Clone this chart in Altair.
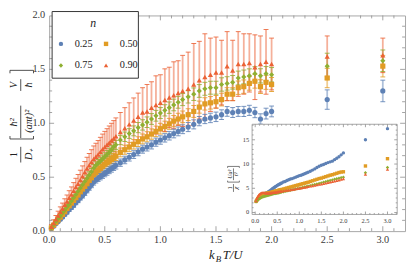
import altair as alt
import pandas as pd

SERIF = "Liberation Serif"
series = ["0.25", "0.50", "0.75", "0.90"]
colors = ["#5E81B5", "#E19C24", "#8FB032", "#EB6235"]
shapes = ["circle", "square", "diamond", "triangle-up"]

T = [0.02,0.04,0.06,0.08,0.10,0.12,0.14,0.16,0.18,0.20,0.22,0.24,0.26,0.28,0.30,0.32,0.34,0.36,0.38,0.40,0.42,0.44,0.46,0.48,0.50,0.52,0.54,0.56,0.58,0.60,
     0.64,0.68,0.72,0.76,0.80,0.84,0.88,0.92,0.96,1.00,1.04,1.08,1.12,1.16,1.20,
     1.25,1.30,1.35,1.40,1.45,1.50,1.55,1.60,1.65,1.70,1.75,1.80,1.85,1.90,1.95,2.00,
     2.5,3.0]

D_025 = [0.025,0.045,0.07,0.09,0.11,0.13,0.155,0.175,0.20,0.22,0.24,0.265,0.285,0.31,0.33,0.355,0.38,0.405,0.43,0.455,0.475,0.49,0.505,0.52,0.535,0.55,0.565,0.58,0.595,0.61,
         0.635,0.66,0.685,0.71,0.735,0.76,0.78,0.80,0.825,0.845,0.865,0.885,0.905,0.925,0.945,
         0.965,0.99,1.02,1.04,1.05,1.06,1.08,1.11,1.10,1.11,1.11,1.12,1.10,1.04,1.09,1.11,
         1.22,1.30]
E_025 = [0.01,0.01,0.012,0.012,0.013,0.014,0.015,0.016,0.017,0.018,0.019,0.02,0.021,0.022,0.023,0.024,0.025,0.026,0.027,0.028,0.029,0.03,0.03,0.031,0.031,0.032,0.032,0.033,0.033,0.034,
         0.034,0.035,0.035,0.036,0.036,0.037,0.037,0.038,0.038,0.039,0.039,0.04,0.04,0.041,0.041,
         0.042,0.042,0.043,0.043,0.044,0.044,0.045,0.045,0.046,0.046,0.047,0.047,0.048,0.048,0.05,0.05,
         0.09,0.10]
D_050 = [0.03,0.055,0.08,0.105,0.13,0.155,0.18,0.21,0.235,0.26,0.285,0.31,0.335,0.365,0.39,0.415,0.44,0.47,0.495,0.525,0.545,0.565,0.58,0.60,0.62,0.635,0.65,0.665,0.68,0.695,
         0.73,0.755,0.78,0.805,0.83,0.855,0.875,0.90,0.925,0.95,0.97,0.995,1.02,1.04,1.06,
         1.08,1.11,1.15,1.18,1.19,1.20,1.22,1.27,1.27,1.33,1.34,1.37,1.39,1.34,1.38,1.36,
         1.42,1.53]
E_050 = [0.01,0.012,0.013,0.014,0.015,0.016,0.017,0.018,0.019,0.02,0.021,0.022,0.023,0.024,0.025,0.026,0.027,0.028,0.029,0.03,0.031,0.032,0.033,0.034,0.035,0.036,0.037,0.038,0.039,0.04,
         0.041,0.042,0.043,0.044,0.045,0.046,0.047,0.048,0.049,0.05,0.05,0.051,0.052,0.053,0.054,
         0.055,0.055,0.056,0.057,0.058,0.058,0.059,0.06,0.06,0.062,0.062,0.063,0.064,0.064,0.065,0.065,
         0.09,0.10]
D_075 = [0.03,0.06,0.09,0.115,0.14,0.17,0.195,0.225,0.25,0.28,0.31,0.34,0.37,0.40,0.43,0.46,0.49,0.52,0.55,0.585,0.61,0.63,0.65,0.67,0.69,0.71,0.73,0.755,0.78,0.80,
         0.845,0.875,0.905,0.93,0.96,0.985,1.01,1.04,1.07,1.095,1.12,1.145,1.17,1.195,1.22,
         1.245,1.27,1.30,1.32,1.33,1.33,1.36,1.37,1.38,1.42,1.43,1.44,1.46,1.44,1.46,1.45,
         1.53,1.58]
E_075 = [0.01,0.012,0.014,0.015,0.016,0.018,0.019,0.02,0.021,0.022,0.023,0.024,0.025,0.026,0.027,0.028,0.029,0.03,0.031,0.032,0.033,0.034,0.035,0.036,0.037,0.038,0.039,0.04,0.041,0.042,
         0.043,0.044,0.045,0.046,0.047,0.048,0.049,0.05,0.05,0.051,0.052,0.053,0.054,0.055,0.056,
         0.057,0.058,0.059,0.06,0.06,0.06,0.062,0.062,0.063,0.064,0.064,0.065,0.065,0.066,0.066,0.067,
         0.12,0.10]
D_090 = [0.04,0.075,0.11,0.145,0.18,0.21,0.245,0.275,0.31,0.34,0.375,0.41,0.44,0.475,0.51,0.545,0.58,0.61,0.64,0.67,0.69,0.71,0.735,0.76,0.78,0.80,0.82,0.84,0.86,0.88,
         0.92,0.955,0.99,1.025,1.06,1.10,1.11,1.145,1.17,1.19,1.215,1.24,1.26,1.28,1.30,
         1.32,1.36,1.40,1.43,1.45,1.47,1.47,1.53,1.49,1.55,1.55,1.56,1.52,1.55,1.57,1.55,
         1.62,1.63]
E_090 = [0.02,0.03,0.035,0.04,0.045,0.05,0.055,0.06,0.065,0.07,0.075,0.08,0.085,0.09,0.095,0.10,0.105,0.11,0.115,0.12,0.125,0.13,0.135,0.14,0.145,0.15,0.155,0.16,0.165,0.17,
         0.18,0.19,0.20,0.21,0.22,0.23,0.25,0.24,0.27,0.26,0.29,0.28,0.31,0.30,0.33,
         0.34,0.38,0.36,0.40,0.34,0.33,0.30,0.32,0.28,0.30,0.28,0.27,0.30,0.26,0.30,0.24,
         0.19,0.16]

C_025 = [2.3,2.6,2.9,3.1,3.3,3.5,3.6,3.7,3.8,3.9,3.95,4.0,4.05,4.1,4.3,4.4,4.5,4.65,4.8,4.95,5.05,5.2,5.35,5.45,5.6,5.7,5.8,5.9,6.0,6.1,
         6.3,6.4,6.6,6.75,6.9,7.0,7.15,7.3,7.45,7.6,7.7,7.85,8.0,8.15,8.3,
         8.5,8.75,9.0,9.3,9.55,9.75,9.9,10.1,10.3,10.45,10.6,10.9,11.2,11.5,11.9,12.3,
         15.0,17.3]
C_050 = [2.3,2.6,2.9,3.1,3.3,3.5,3.6,3.7,3.8,3.85,3.9,3.9,3.95,4.0,4.0,4.05,4.1,4.15,4.2,4.25,4.3,4.35,4.4,4.45,4.5,4.55,4.6,4.65,4.7,4.75,
         4.85,4.95,5.05,5.15,5.25,5.35,5.45,5.55,5.65,5.75,5.85,5.95,6.05,6.15,6.25,
         6.4,6.55,6.7,6.85,7.0,7.1,7.25,7.4,7.55,7.7,7.8,7.95,8.1,8.25,8.35,8.4,
         9.6,11.1]
C_075 = [2.2,2.4,2.6,2.75,2.9,3.0,3.1,3.2,3.25,3.3,3.35,3.4,3.45,3.5,3.55,3.6,3.65,3.7,3.75,3.8,3.85,3.9,3.93,3.96,4.0,4.04,4.08,4.12,4.16,4.2,
         4.28,4.36,4.44,4.52,4.6,4.68,4.76,4.84,4.92,5.0,5.08,5.17,5.26,5.35,5.45,
         5.55,5.67,5.78,5.9,6.0,6.12,6.25,6.38,6.5,6.62,6.73,6.85,6.97,7.08,7.2,7.3,
         8.2,9.3]
C_090 = [2.4,2.9,3.3,3.6,3.8,3.95,4.05,4.1,4.1,4.1,4.05,4.0,4.0,4.0,4.0,4.02,4.04,4.06,4.08,4.1,4.12,4.15,4.18,4.21,4.25,4.28,4.31,4.34,4.37,4.4,
         4.46,4.52,4.58,4.64,4.7,4.76,4.82,4.88,4.94,5.0,5.07,5.14,5.21,5.28,5.35,
         5.44,5.53,5.62,5.71,5.8,5.9,6.0,6.1,6.2,6.3,6.4,6.5,6.6,6.72,6.84,6.95,
         7.9,8.9]

main_x_ticks = [0.0, 0.5, 1.0, 1.5, 2.0, 2.5, 3.0]
main_y_ticks = [0.0, 0.5, 1.0, 1.5, 2.0]
inset_x_ticks = [0.0, 0.5, 1.0, 1.5, 2.0, 2.5, 3.0]
inset_y_ticks = [0, 5, 10, 15]

rows = []
for s, d, e, c in zip(series, [D_025, D_050, D_075, D_090], [E_025, E_050, E_075, E_090],
                      [C_025, C_050, C_075, C_090]):
    for t, v, err, ch in zip(T, d, e, c):
        rows.append({"n": s, "T": t, "D": v, "lo": v - err, "hi": v + err, "chi": ch})
df = pd.DataFrame(rows)

# layout: plot area origin on the page
OX, OY = 50, 13
W, H = 363, 220
FRAME = "#a6a6a6"
TICKC = "#8c8c8c"
LAB = "#3a3a3a"


def px(x):
    return x - OX


def py(y):
    return y - OY


# inset box (page pixels)
IX0, IX1, IY0, IY1 = 257, 405, 124, 216

xs = alt.Scale(domain=[0, 3.2], nice=False, zero=False)
ys = alt.Scale(domain=[0, 2.0], nice=False, zero=False)
ixs = alt.Scale(domain=[-0.07, 3.22], range=[px(IX0), px(IX1)], nice=False, zero=False)
iys = alt.Scale(domain=[-0.4, 18.2], range=[py(IY1), py(IY0)], nice=False, zero=False)
cscale = alt.Scale(domain=series, range=colors)
sscale = alt.Scale(domain=series, range=shapes)


def minor(lo, hi, step, majors):
    out = []
    k = 0
    while True:
        v = round(lo + k * step, 4)
        if v > hi:
            break
        if all(abs(v - m) > 1e-6 for m in majors):
            out.append(v)
        k += 1
    return out


def one():
    return alt.Chart(pd.DataFrame({"a": [0]}))


def vt(vals, scale, y1, y2, w=0.8):
    return alt.Chart(pd.DataFrame({"t": vals})).mark_rule(color=TICKC, strokeWidth=w).encode(
        x=alt.X("t:Q", scale=scale, axis=None), y=alt.value(y1), y2=alt.value(y2))


def ht(vals, scale, x1, x2, w=0.8):
    return alt.Chart(pd.DataFrame({"t": vals})).mark_rule(color=TICKC, strokeWidth=w).encode(
        y=alt.Y("t:Q", scale=scale, axis=None), x=alt.value(x1), x2=alt.value(x2))


def txt(s, x, y, size=11, angle=0, style="normal", align="center", color="#222"):
    # x, y in page pixels
    return one().mark_text(
        text=s, font=SERIF, fontSize=size, fontStyle=style, angle=angle,
        align=align, baseline="middle", color=color).encode(x=alt.value(px(x)), y=alt.value(py(y)))


def seg(x1, y1, x2, y2, w=0.8, color="#222"):
    return one().mark_rule(color=color, strokeWidth=w).encode(
        x=alt.value(px(x1)), y=alt.value(py(y1)), x2=alt.value(px(x2)), y2=alt.value(py(y2)))


# ---------- main panel ----------
base = alt.Chart(df)
bars = base.mark_rule(strokeWidth=1.8, opacity=0.5).encode(
    x=alt.X("T:Q", scale=xs, axis=None), y=alt.Y("lo:Q", scale=ys, axis=None), y2="hi:Q",
    color=alt.Color("n:N", scale=cscale, legend=None))
cap_lo = base.mark_tick(orient="horizontal", size=5, thickness=1, opacity=0.85).encode(
    x=alt.X("T:Q", scale=xs, axis=None), y=alt.Y("lo:Q", scale=ys, axis=None),
    color=alt.Color("n:N", scale=cscale, legend=None))
cap_hi = base.mark_tick(orient="horizontal", size=5, thickness=1, opacity=0.85).encode(
    x=alt.X("T:Q", scale=xs, axis=None), y=alt.Y("hi:Q", scale=ys, axis=None),
    color=alt.Color("n:N", scale=cscale, legend=None))
pts = base.mark_point(filled=True, size=28, opacity=1).encode(
    x=alt.X("T:Q", scale=xs, axis=None), y=alt.Y("D:Q", scale=ys, axis=None),
    color=alt.Color("n:N", scale=cscale, legend=None),
    shape=alt.Shape("n:N", scale=sscale, legend=None))

mx_minor = minor(0.1, 3.15, 0.1, main_x_ticks)
my_minor = minor(0.1, 1.95, 0.1, main_y_ticks)
main_ticks = [
    vt(main_x_ticks[1:], xs, H, H - 5), vt(mx_minor, xs, H, H - 3),
    vt(main_x_ticks[1:], xs, 0, 5), vt(mx_minor, xs, 0, 3),
    ht(main_y_ticks[1:-1], ys, 0, 5), ht(my_minor, ys, 0, 3),
    ht(main_y_ticks[1:-1], ys, W, W - 5), ht(my_minor, ys, W, W - 3),
]
mxl = alt.Chart(pd.DataFrame({"t": main_x_ticks, "s": [f"{v:.1f}" for v in main_x_ticks]})).mark_text(
    font=SERIF, fontSize=10.5, color=LAB, baseline="middle").encode(
    x=alt.X("t:Q", scale=xs, axis=None), y=alt.value(H + 9), text="s:N")
myl = alt.Chart(pd.DataFrame({"t": main_y_ticks, "s": [f"{v:.1f}" for v in main_y_ticks]})).mark_text(
    font=SERIF, fontSize=10.5, color=LAB, baseline="middle", align="right").encode(
    y=alt.Y("t:Q", scale=ys, axis=None), x=alt.value(-4), text="s:N")

# legend (drawn by hand: box, title, symbols, labels) — page pixels
legend_layers = [
    one().mark_rect(fill="white", stroke="#333", strokeWidth=1).encode(
        x=alt.value(px(53)), x2=alt.value(px(141)), y=alt.value(py(9)), y2=alt.value(py(77))),
    txt("n", 95, 21, 12, style="italic"),
]
leg_pos = [(62, 42), (108, 42), (62, 64), (108, 64)]
for s, c, sh, (lx, ly) in zip(series, colors, shapes, leg_pos):
    legend_layers.append(one().mark_point(filled=True, size=20, shape=sh, color=c, opacity=1).encode(
        x=alt.value(px(lx)), y=alt.value(py(ly))))
    legend_layers.append(txt(s, lx + 14, ly, 10.5, align="left"))

FS = 10.5
titles = [
    # x title k_B T / U
    txt("k", 213, 257, 13, style="italic", align="left"),
    txt("B", 220, 261, 9, style="italic", align="left"),
    txt("T/U", 227, 257, 13, style="italic", align="left"),
    # y title: 1/D+ [ hbar^2/(a pi t)^2  V/hbar ]
    txt("1", 14, 155, FS, angle=270),
    seg(21, 147, 21, 163),
    txt("D\u208a", 29, 155, FS, angle=270, style="italic"),
    seg(10, 139, 34, 139), seg(10, 139, 10, 136), seg(34, 139, 34, 136),
    txt("\u0127\u00b2", 14, 122, FS, angle=270, style="italic"),
    seg(21, 105, 21, 138),
    txt("(a\u03c0t)\u00b2", 29, 121, FS, angle=270, style="italic"),
    txt("V", 14, 84, FS, angle=270, style="italic"),
    seg(21, 78, 21, 90),
    txt("\u0127", 29, 84, FS, angle=270, style="italic"),
    seg(10, 69, 34, 69), seg(10, 69, 10, 72), seg(34, 69, 34, 72),
]

# ---------- inset ----------
frame = alt.Chart(pd.DataFrame({"a": [0]})).mark_rect(fill="white", stroke=FRAME, strokeWidth=1).encode(
    x=alt.X("x0:Q", scale=ixs, axis=None), x2="x1:Q",
    y=alt.Y("y0:Q", scale=iys, axis=None), y2="y1:Q"
).transform_calculate(x0="-0.07", x1="3.22", y0="-0.4", y1="18.2")

ix_minor = minor(0.1, 3.2, 0.1, inset_x_ticks)
iy_minor = minor(1, 18, 1, inset_y_ticks)
ib, itp, il, ir = py(IY1), py(IY0), px(IX0), px(IX1)
inset_ticks = [
    vt(inset_x_ticks, ixs, ib, ib - 3), vt(ix_minor, ixs, ib, ib - 1.5),
    vt(inset_x_ticks, ixs, itp, itp + 3), vt(ix_minor, ixs, itp, itp + 1.5),
    ht(inset_y_ticks, iys, il, il + 3), ht(iy_minor, iys, il, il + 1.5),
    ht(inset_y_ticks, iys, ir, ir - 3), ht(iy_minor, iys, ir, ir - 1.5),
]
ixl = alt.Chart(pd.DataFrame({"t": inset_x_ticks, "s": [f"{v:.1f}" for v in inset_x_ticks]})).mark_text(
    font=SERIF, fontSize=6.5, color=LAB, baseline="middle").encode(
    x=alt.X("t:Q", scale=ixs, axis=None), y=alt.value(ib + 7), text="s:N")
iyl = alt.Chart(pd.DataFrame({"t": inset_y_ticks, "s": [str(v) for v in inset_y_ticks]})).mark_text(
    font=SERIF, fontSize=6.5, color=LAB, baseline="middle", align="right").encode(
    y=alt.Y("t:Q", scale=iys, axis=None), x=alt.value(il - 3), text="s:N")
ipts = alt.Chart(df).mark_point(filled=True, size=12, opacity=1).encode(
    x=alt.X("T:Q", scale=ixs, axis=None), y=alt.Y("chi:Q", scale=iys, axis=None),
    color=alt.Color("n:N", scale=cscale, legend=None),
    shape=alt.Shape("n:N", scale=sscale, legend=None))
ititle = [
    txt("1", 235, 189, 6.5, angle=270),
    seg(238, 185, 238, 193, 0.6),
    txt("\u03c7", 241, 189, 6.5, angle=270, style="italic"),
    seg(232, 183, 244, 183, 0.6), seg(232, 183, 232, 181.5, 0.6), seg(244, 183, 244, 181.5, 0.6),
    txt("Ua\u00b2", 235, 175, 6, angle=270, style="italic"),
    seg(238, 169, 238, 181, 0.6),
    txt("t\u00b2", 241, 175, 6, angle=270, style="italic"),
    seg(232, 167, 244, 167, 0.6), seg(232, 167, 232, 168.5, 0.6), seg(244, 167, 244, 168.5, 0.6),
]

chart = alt.layer(
    bars, cap_lo, cap_hi, *main_ticks, mxl, myl, pts, *titles,
    frame, *inset_ticks, ixl, iyl, ipts, *ititle, *legend_layers
).resolve_scale(x="independent", y="independent").properties(
    width=W, height=H,
    autosize=alt.AutoSizeParams(type="none"),
    padding={"left": OX - 8, "top": OY - 8, "right": 2, "bottom": 35},
).configure_view(stroke=FRAME, strokeWidth=1)

chart.save("out.html", embed_options={"renderer": "svg", "actions": False})
